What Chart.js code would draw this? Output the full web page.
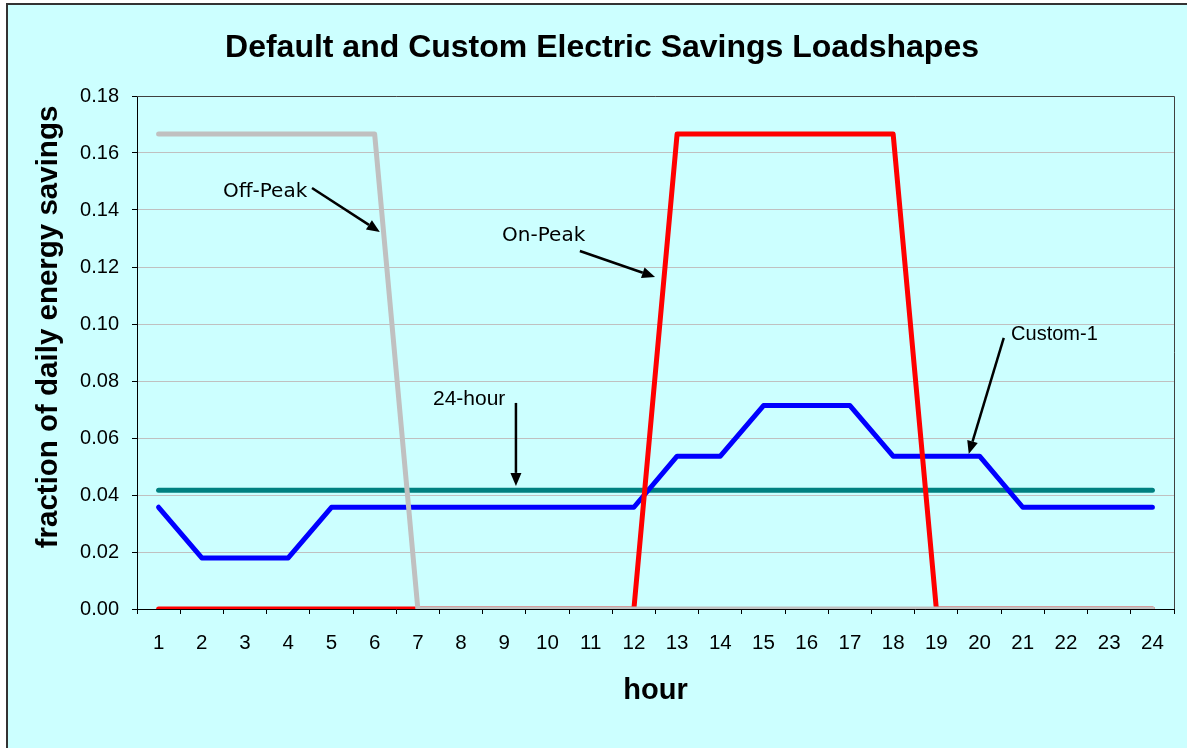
<!DOCTYPE html>
<html>
<head>
<meta charset="utf-8">
<script src="https://cdn.jsdelivr.net/npm/chart.js@4.4.1/dist/chart.umd.min.js"></script>
<style>
  html, body { margin: 0; padding: 0; background: #ffffff; }
  #wrap { position: absolute; left: 0; top: 0; width: 1187px; height: 748px; }
</style>
</head>
<body>
<div id="wrap"><canvas id="c" width="1187" height="748"></canvas></div>
<script>
// ---- data ----
const hours = ['1','2','3','4','5','6','7','8','9','10','11','12','13','14','15','16','17','18','19','20','21','22','23','24'];
const offPeak = [0.1667,0.1667,0.1667,0.1667,0.1667,0.1667,0,0,0,0,0,0,0,0,0,0,0,0,0,0,0,0,0,0];
const onPeak  = [0,0,0,0,0,0,0,0,0,0,0,0,0.1667,0.1667,0.1667,0.1667,0.1667,0.1667,0,0,0,0,0,0];
const allDay  = [0.0417,0.0417,0.0417,0.0417,0.0417,0.0417,0.0417,0.0417,0.0417,0.0417,0.0417,0.0417,0.0417,0.0417,0.0417,0.0417,0.0417,0.0417,0.0417,0.0417,0.0417,0.0417,0.0417,0.0417];
const custom1 = [0.0357,0.0179,0.0179,0.0179,0.0357,0.0357,0.0357,0.0357,0.0357,0.0357,0.0357,0.0357,0.0536,0.0536,0.0714,0.0714,0.0714,0.0536,0.0536,0.0536,0.0357,0.0357,0.0357,0.0357];
const yMin = 0, yMax = 0.18, yStep = 0.02;
const yTitle = 'fraction of daily energy savings';

// annotation labels (text + anchor in data units: category index, value)
const notes = [
  { text: 'Off-Peak', font: '20px "DejaVu Sans"', at: [1.49, 0.1465], from: [3.55, 0.1477], to: [5.12, 0.1323] },
  { text: 'On-Peak',  font: '20px "DejaVu Sans"', at: [7.95, 0.131], from: [9.75, 0.1256], to: [11.49, 0.1165] },
  { text: '24-hour',  font: '21px "Liberation Sans"', at: [6.35, 0.0735], from: [8.27, 0.0723], to: [8.27, 0.0432] },
  { text: 'Custom-1', font: '20px "Liberation Sans"', at: [19.73, 0.0962], from: [19.56, 0.0951], to: [18.75, 0.0544] }
];

const BG = '#CCFFFF';

const frame = {
  id: 'frame',
  beforeDraw(chart) {
    const ctx = chart.ctx;
    ctx.save();
    ctx.fillStyle = '#ffffff';
    ctx.fillRect(0, 0, chart.width, chart.height);
    ctx.fillStyle = BG;
    ctx.fillRect(6, 3, chart.width - 6, chart.height - 3);
    ctx.strokeStyle = '#333333';
    ctx.lineWidth = 2;
    ctx.beginPath();
    ctx.moveTo(7, chart.height);
    ctx.lineTo(7, 4);
    ctx.lineTo(chart.width, 4);
    ctx.stroke();
    ctx.restore();
  },
  afterDraw(chart) {
    const ctx = chart.ctx, a = chart.chartArea;
    ctx.save();
    ctx.strokeStyle = '#404040';
    ctx.lineWidth = 1;
    ctx.beginPath();
    ctx.moveTo(a.left, Math.round(a.top) + 0.5);
    ctx.lineTo(Math.round(a.right) + 0.5, Math.round(a.top) + 0.5);
    ctx.lineTo(Math.round(a.right) + 0.5, a.bottom);
    ctx.stroke();
    // y axis title
    ctx.save();
    ctx.translate(49, 327);
    ctx.rotate(-Math.PI / 2);
    ctx.font = 'bold 29.5px "Liberation Sans", Arial, sans-serif';
    ctx.fillStyle = '#000';
    ctx.textAlign = 'center';
    ctx.textBaseline = 'middle';
    ctx.fillText(yTitle, 0, 0);
    ctx.restore();
    // annotations
    const xs = chart.scales.x, ys = chart.scales.y;
    ctx.fillStyle = '#000';
    ctx.strokeStyle = '#000';
    notes.forEach(n => {
      ctx.font = n.font;
      ctx.textAlign = 'left';
      ctx.textBaseline = 'middle';
      ctx.fillText(n.text, xs.getPixelForValue(n.at[0]), ys.getPixelForValue(n.at[1]));
      const x1 = xs.getPixelForValue(n.from[0]), y1 = ys.getPixelForValue(n.from[1]);
      const x2 = xs.getPixelForValue(n.to[0]), y2 = ys.getPixelForValue(n.to[1]);
      const ang = Math.atan2(y2 - y1, x2 - x1);
      const L = 13, W = 5.5;
      const bx = x2 - L * Math.cos(ang), by = y2 - L * Math.sin(ang);
      ctx.lineWidth = 2.5;
      ctx.beginPath();
      ctx.moveTo(x1, y1);
      ctx.lineTo(bx, by);
      ctx.stroke();
      ctx.beginPath();
      ctx.moveTo(x2, y2);
      ctx.lineTo(bx + W * Math.sin(ang), by - W * Math.cos(ang));
      ctx.lineTo(bx - W * Math.sin(ang), by + W * Math.cos(ang));
      ctx.closePath();
      ctx.fill();
    });
    ctx.restore();
  }
};

const lineStyle = { borderWidth: 5, pointRadius: 0, pointHoverRadius: 0, fill: false, tension: 0, borderCapStyle: 'round', borderJoinStyle: 'round', clip: 0 };

new Chart(document.getElementById('c'), {
  type: 'line',
  data: {
    labels: hours,
    datasets: [
      Object.assign({ label: 'Off-Peak', data: offPeak, borderColor: '#C0C0C0', order: 1 }, lineStyle),
      Object.assign({ label: 'On-Peak',  data: onPeak,  borderColor: '#FF0000', order: 2 }, lineStyle),
      Object.assign({ label: 'Custom-1', data: custom1, borderColor: '#0000FF', order: 3 }, lineStyle),
      Object.assign({ label: '24-hour',  data: allDay,  borderColor: '#008080', order: 4 }, lineStyle)
    ]
  },
  options: {
    responsive: false,
    animation: false,
    events: [],
    layout: { padding: { left: 30, right: 13, top: 0, bottom: 0 } },
    plugins: {
      legend: { display: false },
      tooltip: { enabled: false },
      title: {
        display: true,
        text: 'Default and Custom Electric Savings Loadshapes',
        color: '#000',
        font: { family: '"Liberation Sans", Arial, sans-serif', size: 32, weight: 'bold' },
        padding: { top: 28.5, bottom: 29.1 }
      }
    },
    scales: {
      x: {
        offset: true,
        grid: { display: true, offset: true, drawOnChartArea: false, drawTicks: true, tickLength: 5, tickColor: '#000' },
        border: { display: true, color: '#000', width: 1 },
        ticks: { autoSkip: false, maxRotation: 0, minRotation: 0, padding: 17, color: '#000',
                 font: { family: '"Liberation Sans", Arial, sans-serif', size: 20.5 } },
        title: { display: true, text: 'hour', color: '#000',
                 font: { family: '"Liberation Sans", Arial, sans-serif', size: 29, weight: 'bold' },
                 padding: { top: 0, bottom: 40 } },
        afterFit(scale) { scale.height = 139; }
      },
      y: {
        min: yMin, max: yMax,
        grid: { color: '#C0C0C0', lineWidth: 1, drawTicks: true, tickLength: 5, tickColor: '#000' },
        border: { display: true, color: '#000', width: 1 },
        ticks: { stepSize: yStep, padding: 13, color: '#000',
                 font: { family: '"Liberation Sans", Arial, sans-serif', size: 20 },
                 callback: v => Number(v).toFixed(2) },
        title: { display: false },
        afterFit(scale) { scale.width = 107; }
      }
    }
  },
  plugins: [frame]
});
</script>
</body>
</html>
